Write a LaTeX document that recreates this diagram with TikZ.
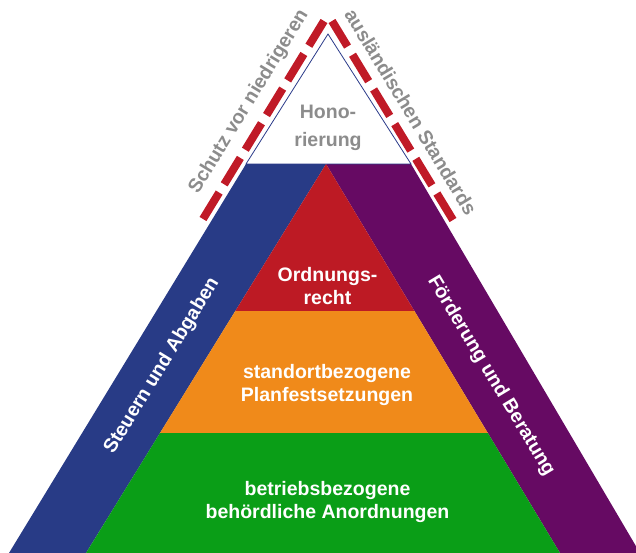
\documentclass[tikz,border=0pt]{standalone}
\usepackage{fontspec}
\setmainfont{Liberation Sans}
\definecolor{bandblue}{HTML}{283B86}
\definecolor{bandpurple}{HTML}{660A63}
\definecolor{lvlred}{HTML}{BD1A24}
\definecolor{lvlorange}{HTML}{F08A1A}
\definecolor{lvlgreen}{HTML}{0A9E17}
\definecolor{txtgray}{HTML}{8C8C8C}
\definecolor{dashred}{HTML}{C01A27}
\definecolor{edgeblue}{HTML}{2B3B8A}
\begin{document}
\begin{tikzpicture}[x=1pt,y=-1pt,
  lbl/.style={font=\bfseries\fontsize{19.5}{23.3}\selectfont, inner sep=0pt},
  wlbl/.style={lbl, text=white},
  glbl/.style={lbl, text=txtgray},
  guard/.style={draw=dashred, line width=8pt, dash pattern=on 31pt off 9.6pt}]
\useasboundingbox (0,0) rectangle (636,553);
% key points
\coordinate (OL) at (246,164);
\coordinate (OR) at (411,164);
\coordinate (OBL) at (9,553);
\coordinate (OBR) at (640,553);
\coordinate (A) at (326,164);
\coordinate (R1L) at (235.3,311);
\coordinate (R1R) at (414.4,311);
\coordinate (R2L) at (160,433);
\coordinate (R2R) at (487.8,433);
\coordinate (BL) at (86,553);
\coordinate (BR) at (560,553);
\coordinate (T) at (328,34);
% bands
\fill[bandblue] (OL) -- (A) -- (BL) -- (OBL) -- cycle;
\fill[bandpurple] (A) -- (OR) -- (OBR) -- (BR) -- cycle;
% levels
\fill[lvlred] (A) -- (R1R) -- (R1L) -- cycle;
\fill[lvlorange] (R1L) -- (R1R) -- (R2R) -- (R2L) -- cycle;
\fill[lvlgreen] (R2L) -- (R2R) -- (BR) -- (BL) -- cycle;
% top triangle
\draw[edgeblue, fill=white, line width=0.8pt, line join=miter] (OL) -- (OR) -- (T) -- cycle;
% dashed guards
\coordinate (GL1) at (203,219);
\coordinate (GL2) at (324,21);
\coordinate (GR1) at (332,21);
\coordinate (GR2) at (453,220);
\draw[guard] (GL1) -- (GL2);
\draw[guard] (GR2) -- (GR1);
% labels
\node[glbl, anchor=base] (hon1) at (328,119) {Hono-};
\node[glbl, anchor=base] (hon2) at (328,147) {rierung};
\node[wlbl, anchor=base] (ord1) at (327.5,281) {Ordnungs-};
\node[wlbl, anchor=base] (ord2) at (327.5,304) {recht};
\node[wlbl, anchor=base] (sta1) at (327,378.3) {standortbezogene};
\node[wlbl, anchor=base] (sta2) at (327,401.7) {Planfestsetzungen};
\node[wlbl, anchor=base] (bet1) at (327.5,495) {betriebsbezogene};
\node[wlbl, anchor=base] (bet2) at (327.5,518.3) {behördliche Anordnungen};
\node[wlbl, rotate=58.5] (steu) at (162,366) {Steuern und Abgaben};
\node[wlbl, rotate=-59] (foer) at (491,376) {Förderung und Beratung};
\node[glbl, rotate=58.5] (schutz) at (249,102) {Schutz vor niedrigeren};
\node[glbl, rotate=-58.8] (ausl) at (411,112) {ausländischen Standards};
\end{tikzpicture}
\end{document}
